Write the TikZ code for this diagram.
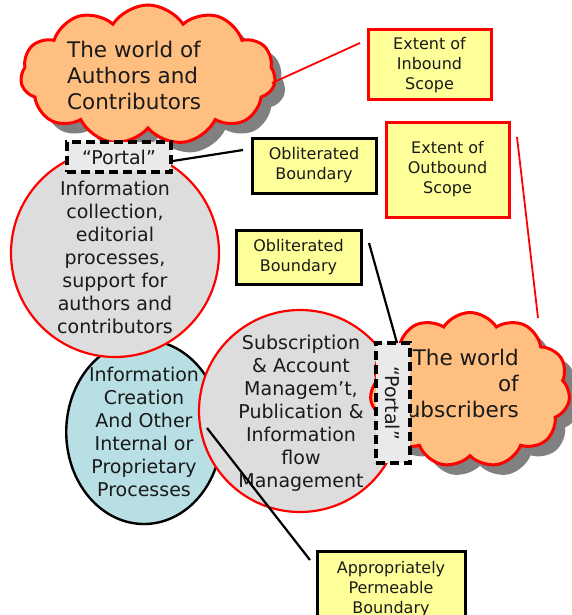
\documentclass[tikz,border=0pt]{standalone}
\usepackage{fontspec}
\setmainfont{DejaVu Sans}
\usetikzlibrary{shapes.symbols,shapes.geometric,shadows}
\definecolor{cloudor}{HTML}{FFBF80}
\definecolor{circgray}{HTML}{DDDDDD}
\definecolor{ellblue}{HTML}{B8DFE4}
\definecolor{noteyel}{HTML}{FFFF99}
\definecolor{portalgray}{HTML}{EAEAEA}
\definecolor{shadowgray}{HTML}{808080}
\definecolor{txt}{HTML}{1A1A1A}
\begin{document}
\begin{tikzpicture}[x=1pt,y=-1pt,
  cloudshape/.style={cloud, cloud puffs=11, cloud puff arc=115, cloud ignores aspect,
    draw=red, line width=3pt, fill=cloudor, inner sep=0pt,
    drop shadow={shadow xshift=10pt, shadow yshift=-10pt, fill=shadowgray, opacity=1}},
  bigtext/.style={font=\fontsize{21.5}{26}\selectfont, text=txt, inner sep=0pt},
  proc/.style={circle, draw=red, line width=2.2pt, fill=circgray, inner sep=0pt,
    align=center, text=txt, font=\fontsize{19}{23}\selectfont},
  portal/.style={draw=black, line width=3.6pt, dash pattern=on 9pt off 5pt, fill=portalgray,
    inner sep=0pt, text=txt, font=\fontsize{19}{22}\selectfont},
  note/.style={rectangle, fill=noteyel, line width=3pt, inner sep=0pt, align=center,
    text=txt, font=\fontsize{16}{20}\selectfont},
  redline/.style={draw=red, line width=1.8pt},
  blackline/.style={draw=black, line width=2.2pt}
]
\useasboundingbox (0,0) rectangle (571,615);

% clouds and shapes
\node[cloudshape, minimum width=255pt, minimum height=140pt] (c1) at (148,75) {};
\node[bigtext, anchor=west, align=left] (c1t) at (67,75) {The world of\\Authors and\\Contributors};

\node[ellipse, draw=black, line width=2.4pt, fill=ellblue, minimum width=148pt, minimum height=184pt,
  inner sep=0pt, align=center, text=txt, font=\fontsize{19}{23}\selectfont] (ell) at (144,432)
  {Information\\Creation\\And Other\\Internal or\\Proprietary\\Processes};

\node[proc, minimum size=208pt] (circ1) at (115,253) {};
\node[text=txt, font=\fontsize{19}{23}\selectfont, align=center, inner sep=0pt] (circ1t) at (115,257)
  {Information\\collection,\\editorial\\processes,\\support for\\authors and\\contributors};

\node[proc, minimum size=202pt] (circ2) at (300,411) {};
\node[text=txt, font=\fontsize{19}{23}\selectfont, align=center, inner sep=0pt] (circ2t) at (301,413)
  {Subscription\\\& Account\\Managem’t,\\Publication \&\\Information\\flow\\Management};

\node[cloudshape, minimum width=200pt, minimum height=155pt] (c2) at (470,390) {};
\node[bigtext, anchor=east, align=right] (c2t) at (519,383) {The world\\of\\Subscribers};

% portals
\node[portal, minimum width=104pt, minimum height=30pt] (p1) at (119,157) {“Portal”};
\node[portal, minimum width=34pt, minimum height=120pt] (p2) at (393,403) {\rotatebox{-90}{“Portal”}};

% notes
\node[note, draw=red, minimum width=123pt, minimum height=70pt] (inb) at (429.5,65) {Extent of\\Inbound\\Scope};
\node[note, draw=red, minimum width=123pt, minimum height=95pt] (outb) at (447.5,169.5) {Extent of\\Outbound\\Scope};
\node[note, draw=black, minimum width=124pt, minimum height=55pt] (obl1) at (314,165.5) {Obliterated\\Boundary};
\node[note, draw=black, minimum width=125pt, minimum height=54pt] (obl2) at (298.5,257) {Obliterated\\Boundary};
\node[note, draw=black, minimum width=148pt, minimum height=76pt, anchor=north] (perm) at (391,550) {Appropriately\\Permeable\\Boundary};

% connectors
\coordinate (inS) at (272,83);
\coordinate (inE) at (360,43);
\coordinate (outS) at (517,137);
\coordinate (outE) at (538,318);
\coordinate (o1E) at (243,150);
\coordinate (o2S) at (369,243);
\coordinate (o2E) at (397,343);
\coordinate (pmS) at (207,428);
\coordinate (pmE) at (310,560);
\draw[redline] (inS) -- (inE);
\draw[redline] (outS) -- (outE);
\draw[blackline] (p1.east) ++(0,4) -- (o1E);
\draw[blackline] (o2S) -- (o2E);
\draw[blackline] (pmS) -- (pmE);
\end{tikzpicture}
\end{document}
